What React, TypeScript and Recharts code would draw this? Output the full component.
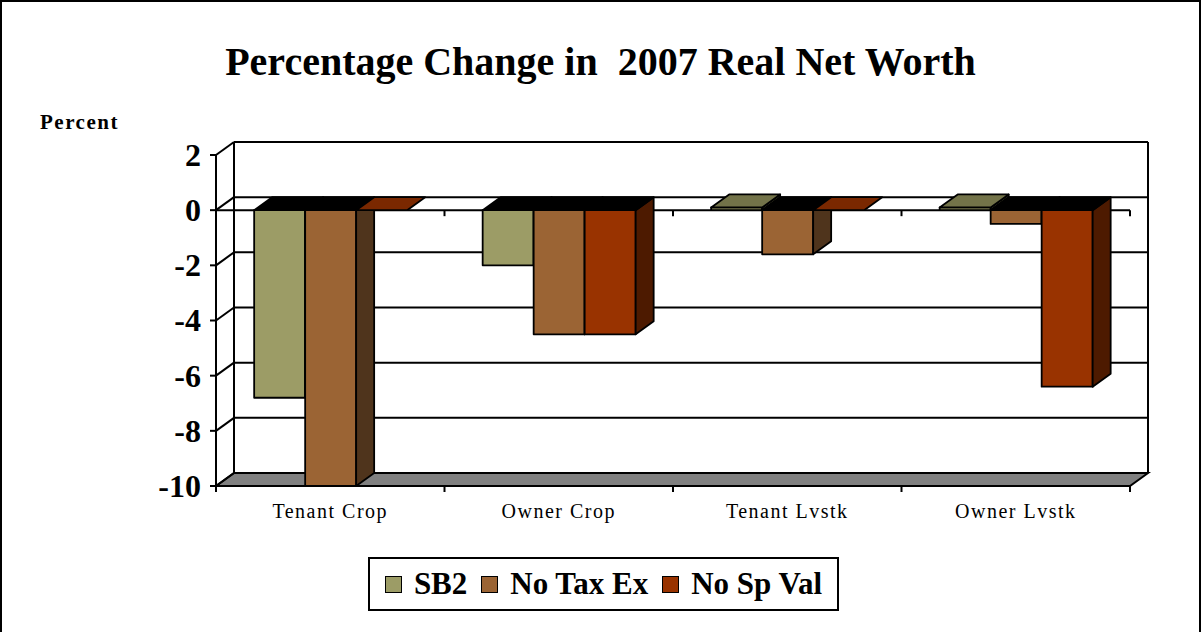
import React from "react";
import { BarChart, Bar, XAxis, YAxis, CartesianGrid } from "recharts";

const categories = ["Tenant Crop", "Owner Crop", "Tenant Lvstk", "Owner Lvstk"];
const sb2 = [-6.8, -2.0, 0.1, 0.1];
const noTaxEx = [-10, -4.5, -1.6, -0.5];
const noSpVal = [0, -4.5, 0, -6.4];
const yTicks = [2, 0, -2, -4, -6, -8, -10];

const seriesNames = ["SB2", "No Tax Ex", "No Sp Val"];
const seriesKeys = ["sb2", "noTaxEx", "noSpVal"];
const frontColors = ["#9c9c66", "#9b6434", "#993300"];
const sideColors = ["#6e6e47", "#4f341c", "#4d1a00"];
const topColors = ["#737349", "#7a5028", "#7a2800"];

const data = categories.map((name, i) => ({
  name,
  sb2: sb2[i],
  noTaxEx: noTaxEx[i],
  noSpVal: noSpVal[i],
}));

const W = 1201;
const H = 632;
const PL = 216; // plot area (front plane)
const PR = 1130;
const PT = 155;
const PB = 486;
const DX = 18; // depth offset
const DY = -13;
const FONT = "'Liberation Serif', 'Times New Roman', serif";

const yOf = (v: number) => PT + ((2 - v) / 12) * (PB - PT);

function Box3D(props: any) {
  const { x, y, width, height, dataKey, payload, idx } = props;
  const v = payload[dataKey];
  const a = Math.min(y, y + height);
  const b = Math.max(y, y + height);
  const w = width;
  const st = { stroke: "#000", strokeWidth: 1.8, strokeLinejoin: "round" as const };
  if (Math.abs(b - a) < 0.5) {
    const y0 = a;
    return (
      <polygon
        points={`${x},${y0} ${x + DX},${y0 + DY} ${x + w + DX},${y0 + DY} ${x + w},${y0}`}
        fill={topColors[idx]}
        {...st}
      />
    );
  }
  const top = a;
  const bot = b;
  const topFill = v < 0 ? "#000" : topColors[idx];
  return (
    <g>
      <rect x={x} y={top} width={w} height={bot - top} fill={frontColors[idx]} {...st} />
      <polygon
        points={`${x + w},${top} ${x + w + DX},${top + DY} ${x + w + DX},${bot + DY} ${x + w},${bot}`}
        fill={sideColors[idx]}
        {...st}
      />
      <polygon
        points={`${x},${top} ${x + DX},${top + DY} ${x + w + DX},${top + DY} ${x + w},${top}`}
        fill={topFill}
        {...st}
      />
    </g>
  );
}

function GridLine(p: any) {
  const { x1, x2, y1 } = p;
  return (
    <g key={p.key}>
      <line x1={x1 + DX} y1={y1 + DY} x2={x2 + DX} y2={y1 + DY} stroke="#000" strokeWidth={2} />
      <line x1={x1} y1={y1} x2={x1 + DX} y2={y1 + DY} stroke="#000" strokeWidth={2} />
    </g>
  );
}

function YTick(p: any) {
  return (
    <text x={p.x - 7} y={p.y} dy="0.34em" textAnchor="end" fontFamily={FONT} fontWeight="bold" fontSize={32} fill="#000">
      {p.payload.value}
    </text>
  );
}

function XTick(p: any) {
  return (
    <text x={p.x} y={518} textAnchor="middle" fontFamily={FONT} fontSize={20} letterSpacing={1.5} fill="#000">
      {p.payload.value}
    </text>
  );
}

function Backdrop() {
  const band = (PR - PL) / categories.length;
  const bounds = categories.map((_, i) => PL + band * (i + 1));
  const y0 = yOf(0);
  return (
    <svg width={W} height={H} style={{ position: "absolute", left: 0, top: 0 }}>
      <rect x={1} y={1} width={W - 2} height={H + 10} fill="#fff" stroke="#000" strokeWidth={2} />
      <polygon
        points={`${PL},${PB} ${PL + DX},${PB + DY} ${PR + DX},${PB + DY} ${PR},${PB}`}
        fill="#808080"
        stroke="#000"
        strokeWidth={2}
      />
      <line x1={PL + DX} y1={PT + DY} x2={PL + DX} y2={PB + DY} stroke="#000" strokeWidth={2} />
      <line x1={PR + DX} y1={PT + DY} x2={PR + DX} y2={PB + DY} stroke="#000" strokeWidth={2} />
      <line x1={PL} y1={y0} x2={PR} y2={y0} stroke="#000" strokeWidth={2} />
      {bounds.map((bx, i) => (
        <g key={i}>
          <line x1={bx} y1={y0} x2={bx} y2={y0 + 6} stroke="#000" strokeWidth={2} />
          <line x1={bx} y1={PB} x2={bx} y2={PB + 6} stroke="#000" strokeWidth={2} />
        </g>
      ))}
      <line x1={PL} y1={PB} x2={PL} y2={PB + 6} stroke="#000" strokeWidth={2} />
    </svg>
  );
}

export default function App() {
  return (
    <div style={{ position: "absolute", left: 0, top: 0, width: W, height: H, background: "#fff", overflow: "hidden" }}>
      <Backdrop />
      <div style={{ position: "absolute", left: 0, top: 0 }}>
        <BarChart
          width={W}
          height={H}
          data={data}
          margin={{ top: PT, right: W - PR, bottom: H - PB - 30, left: PL - 70 }}
          barCategoryGap="16.7%"
          barGap={0}
        >
          <CartesianGrid vertical={false} horizontal={GridLine} />
          <XAxis dataKey="name" height={30} axisLine={false} tickLine={false} tick={<XTick />} interval={0} />
          <YAxis
            width={70}
            domain={[-10, 2]}
            ticks={yTicks}
            allowDataOverflow
            axisLine={{ stroke: "#000", strokeWidth: 2 }}
            tickLine={{ stroke: "#000", strokeWidth: 2 }}
            tickSize={6}
            tick={<YTick />}
          />
          {seriesKeys.map((k, i) => (
            <Bar
              key={k}
              dataKey={k}
              name={seriesNames[i]}
              fill={frontColors[i]}
              isAnimationActive={false}
              shape={(p: any) => <Box3D {...p} idx={i} />}
            />
          ))}
        </BarChart>
      </div>
      <div
        style={{
          position: "absolute",
          left: 0,
          top: 38,
          width: W,
          textAlign: "center",
          fontFamily: FONT,
          fontWeight: "bold",
          fontSize: 40,
          whiteSpace: "pre",
        }}
      >
        {"Percentage Change in  2007 Real Net Worth"}
      </div>
      <div
        style={{
          position: "absolute",
          left: 40,
          top: 110,
          fontFamily: FONT,
          fontWeight: "bold",
          fontSize: 21,
          letterSpacing: 1.5,
        }}
      >
        Percent
      </div>
      <div
        style={{
          position: "absolute",
          left: 368,
          top: 557,
          width: 471,
          height: 54,
          border: "2px solid #000",
          boxSizing: "border-box",
          display: "flex",
          alignItems: "center",
          justifyContent: "center",
          fontFamily: FONT,
          fontWeight: "bold",
          fontSize: 31,
        }}
      >
        {seriesNames.map((n, i) => (
          <div key={n} style={{ display: "flex", alignItems: "center", marginLeft: i === 0 ? 0 : 14 }}>
            <span
              style={{
                display: "inline-block",
                width: 15,
                height: 15,
                background: frontColors[i],
                border: "1px solid #000",
                marginRight: 12,
              }}
            />
            <span>{n}</span>
          </div>
        ))}
      </div>
    </div>
  );
}
